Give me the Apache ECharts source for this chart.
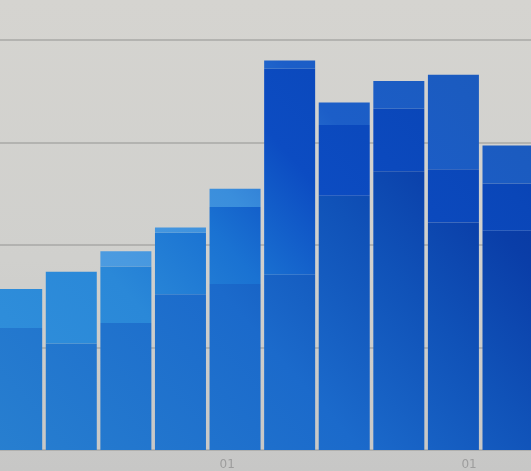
<!DOCTYPE html>
<html>
<head>
<meta charset="utf-8">
<script src="https://cdn.jsdelivr.net/npm/echarts@6/dist/echarts.min.js"></script>
<style>
  html, body { margin: 0; padding: 0; }
  #chart {
    width: 531px; height: 471px;
    background: linear-gradient(to bottom, #d5d4d0 0%, #d0d0cd 55%, #c7c7c6 100%);
  }
</style>
</head>
<body>
<div id="chart"></div>
<script>
// Weekly periods (week centre dates)
const weeks = ['2021-04-04','2021-04-11','2021-04-18','2021-04-25','2021-05-02',
               '2021-05-09','2021-05-16','2021-05-23','2021-05-30','2021-06-06'];
// Stacked series values (bottom, middle, top)
const seriesBottom = [119, 104, 124, 152, 162, 171, 248, 272, 222, 214];
const seriesMiddle = [38, 70, 55, 60, 75, 201, 69, 61, 52, 46];
const seriesTop    = [0, 0, 15, 5, 18, 8, 22, 27, 92, 37];
// Axis tick labels (month starts)
const tickDates = ['2021-04-01','2021-05-01','2021-06-01'];

function utc(s) { const p = s.split('-').map(Number); return Date.UTC(p[0], p[1] - 1, p[2]); }
const DAY = 86400000;

function grad(stops) {
  return new echarts.graphic.LinearGradient(0, 471, 531, 0,
    stops.map(s => ({ offset: s[0], color: s[1] })), true);
}
const colBottom = grad([[0, '#2880d0'], [0.4, '#1b6acb'], [0.6, '#1052b8'], [0.75, '#0a3ea8'], [1, '#082e90']]);
const colMiddle = grad([[0, '#3292dc'], [0.3, '#2a88d8'], [0.45, '#1a72d2'], [0.6, '#0c4cc2'], [0.8, '#0a46b8'], [1, '#083aa8']]);
const colTop    = grad([[0, '#5aa6e6'], [0.33, '#4a9ae0'], [0.5, '#3a8edc'], [0.68, '#1c5ec8'], [1, '#1a58b8']]);

function mk(name, vals, color) {
  return {
    name: name, type: 'bar', stack: 'total', barWidth: 51,
    xAxisIndex: 0,
    itemStyle: { color: color },
    data: vals
  };
}

const chart = echarts.init(document.getElementById('chart'), null, { renderer: 'canvas' });
chart.setOption({
  animation: false,
  backgroundColor: 'transparent',
  grid: { left: -10.6, right: -4.3, top: -62.5, bottom: 21, containLabel: false, outerBoundsMode: 'none' },
  xAxis: [{
    type: 'category',
    data: weeks,
    position: 'bottom',
    axisLine: { show: false },
    axisTick: { show: false },
    axisLabel: { show: false },
    splitLine: { show: false }
  }, {
    type: 'value',
    position: 'bottom',
    min: utc(weeks[0]) - 3.5 * DAY,
    max: utc(weeks[weeks.length - 1]) + 3.5 * DAY,
    axisLine: { show: false },
    axisTick: { show: false },
    splitLine: { show: false },
    axisLabel: {
      customValues: tickDates.map(utc),
      formatter: function (v) { const d = new Date(v).getUTCDate(); return (d < 10 ? '0' : '') + d; },
      color: '#9d9d9d', fontSize: 12, margin: 9,
      fontFamily: 'DejaVu Sans'
    }
  }],
  yAxis: {
    type: 'value', min: 0, max: 500, interval: 100,
    axisLabel: { show: false },
    axisLine: { show: false },
    axisTick: { show: false },
    splitLine: { lineStyle: { color: '#a9a9a6', width: 1.5 } }
  },
  series: [
    mk('A', seriesBottom, colBottom),
    mk('B', seriesMiddle, colMiddle),
    mk('C', seriesTop, colTop)
  ]
});
</script>
</body>
</html>
